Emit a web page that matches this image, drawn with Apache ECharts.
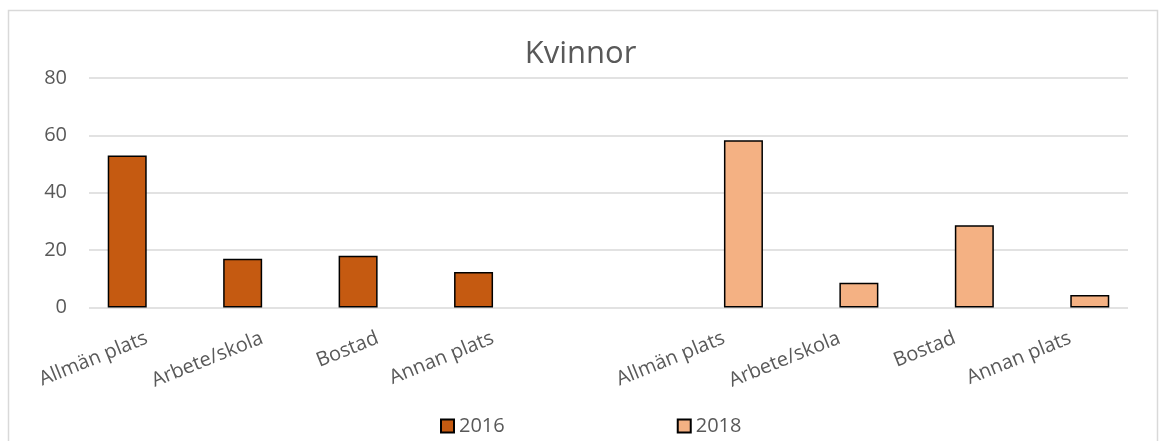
<!DOCTYPE html>
<html>
<head>
<meta charset="utf-8">
<script src="https://cdn.jsdelivr.net/npm/echarts@6/dist/echarts.min.js"></script>
<style>
  html, body { margin: 0; padding: 0; background: #fff; }
  #chart { width: 1161px; height: 441px; }
</style>
</head>
<body>
<div id="chart"></div>
<script>
// kategorier: 4 för 2016, en tom lucka, 4 för 2018
var categories = ['Allmän plats', 'Arbete/skola', 'Bostad', 'Annan plats', '', 'Allmän plats', 'Arbete/skola', 'Bostad', 'Annan plats']
var values2016 = [53, 17, 18, 12.4, '-', '-', '-', '-', '-']
var values2018 = ['-', '-', '-', '-', '-', 58.3, 8.6, 28.7, 4.4]
var yTicks = [0, 20, 40, 60, 80]

var font = 'Open Sans'
var textColor = '#595959'

var chart = echarts.init(document.getElementById('chart'))

var option = {
  animation: false,
  backgroundColor: '#fff',
  textStyle: { fontFamily: font },
  graphic: [{
    type: 'rect',
    shape: { x: 8.5, y: 10.5, width: 1149, height: 445 },
    style: { fill: 'none', stroke: '#d9d9d9', lineWidth: 1.5 },
    silent: true
  }],
  title: {
    text: 'Kvinnor',
    left: 'center',
    top: 34,
    textStyle: { fontFamily: font, fontSize: 31, fontWeight: 'normal', color: textColor }
  },
  legend: {
    left: 435,
    bottom: 0,
    itemWidth: 13,
    itemHeight: 13,
    itemGap: 172,
    icon: 'rect',
    textStyle: { fontFamily: font, fontSize: 20, color: textColor },
    data: ['2016', '2018']
  },
  grid: { left: 89, right: 33, top: 78, bottom: 133.5 },
  xAxis: {
    type: 'category',
    data: categories,
    axisLine: { show: false },
    axisTick: { show: false },
    axisLabel: {
      interval: 0,
      rotate: 22,
      margin: 30,
      fontFamily: font,
      fontSize: 20,
      color: textColor
    }
  },
  yAxis: {
    type: 'value',
    min: yTicks[0],
    max: yTicks[yTicks.length - 1],
    interval: 20,
    axisLine: { show: false },
    axisTick: { show: false },
    axisLabel: { fontFamily: font, fontSize: 20, color: textColor, margin: 22 },
    splitLine: { lineStyle: { color: '#d9d9d9', width: 1.5 } }
  },
  series: [
    {
      name: '2016',
      type: 'bar',
      data: values2016,
      barWidth: 39,
      barGap: '0%',
      itemStyle: { color: '#C55A11', borderColor: '#000', borderWidth: 1.5 }
    },
    {
      name: '2018',
      type: 'bar',
      data: values2018,
      barWidth: 39,
      barGap: '0%',
      itemStyle: { color: '#F4B183', borderColor: '#000', borderWidth: 1.5 }
    }
  ]
}

chart.setOption(option)
</script>
</body>
</html>
